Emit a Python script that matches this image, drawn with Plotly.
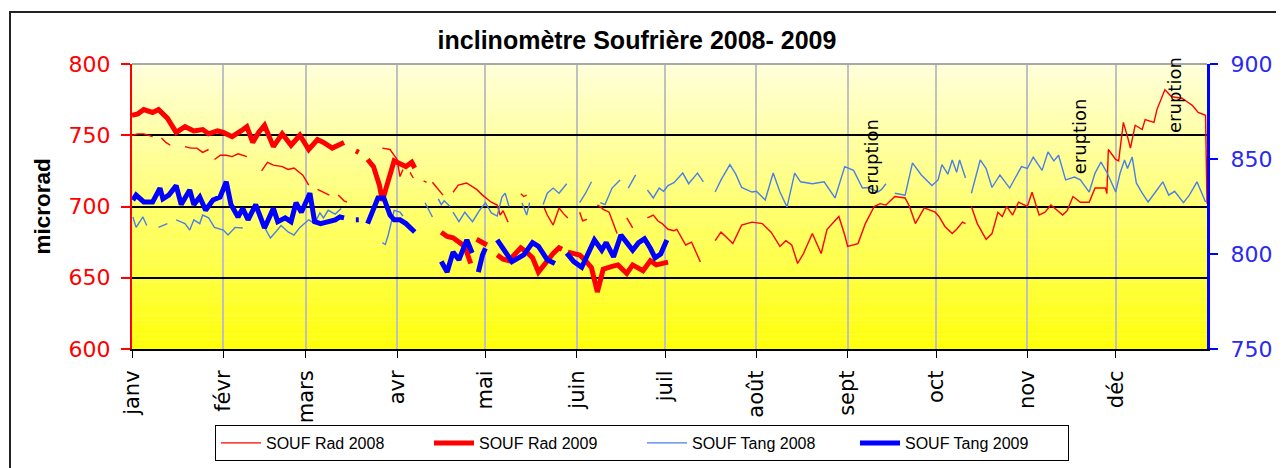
import plotly.graph_objects as go

N = None
# ---- data (day of year, value) ; None = gap ----
rad08_day = [0,2,4,7,8.5,10,11.5,13,15,18,20,22,24,26,27,28,30,32,34,36,39,41.5,44,46,48,51,53,55,58,60,61.5,63,65,67,68.5,70,72,73,79,
             85,87.6,90,91,92,93,94.4,95.5,97.5,99,100,101,102,104,105.6,107,109,110.8,113.6,117,119,122,124,125,126,127.7,130,132,133,134,137,
             140,141,143,145,146.5,148,150,152,153,154.5,157,158,159,160,162,164.7,166.5,168,170,172.5,175,177,178.5,180,182,184,185,188,190,193,195.5,
             198,200,202,204,207,210.5,214,217,220,222,224,226,228,231,232.5,234,236,240,242,243,246.5,249,252,254,256,259,262.5,264,266,269,272.7,274,
             276,278.5,280,282,283,284,285,287,290,292,294,295.5,297,299,301,304,305.6,308,310,312,316,317.5,319.5,322,325,327,330.5,331,331.5,334,335,
             336.6,338,339,340.6,343,344,347,348,350.7,353,356.5,358.6,360,362,364.5,365]
rad08_val = [750,751,751,749,N,748,745,743,N,742,741,741,738,740,N,733,736,736,735,737,735,N,725,731,729,728,726,727,722,715,N,712,710,708,N,708,704,703,N,
             741,740,733,721,726,N,724,720,N,718,717,N,717,712,708,N,710,715,716.5,712,708,703,701,694,697,689,N,709,707,708,N,
             699,694,687,699,695,692,N,696,690,691,N,701,700,698,696,681,N,692,685,N,692,694,690,688,684,683,684,673,675,661,N,
             676,682,678,674,687,689,688,682,672,676,673,660,667,681,674,667,684,693,680,672,674,688,700,702,701,707,706,700,688,699,696,693,
             686,681,684,689,688,N,700,688,677,681,696,693,700,694,703,700,710,694,696,701,694,697,707,703,703,713,713,709,740,733,732,
             759,749,741,757,754,761,759,768,782,777,776,773,771,766,764,702]

rad09_day = [0,2,4,7,9,12,15,18,21,24,26,29,31,34,37,39,41,43,45,48,51,54,57,60,63,65,68,70,72,74,76,77,79,
             80,82,84,85,87,89,91,93,95,96,100,105,107,109,111,113,115,116,117,119,120.5,122,124,126,128,130,132,134,136,138,141,143,145,146,147,
             148,150,152,154,156,158,160,163,165,168,170,173.5,176,178,182]
rad09_val = [764,765,768,766,768,762,752,756,753,754,751,753,752,749,753,756,745,752,757,742,751,743,750,740,747,745,741,743,745,N,739,738,N,
             733,728,715,704,718,732,730,728,731,727,N,682,679,678,675,672,660,N,677,675,673,N,666,663,662,667,671,668,664,654,662,667,671,670,N,
             668,667,666,662,657,640,656,658,659,653,659,655,662,659,661]

tang08_day = [0.3,1.4,3.7,5,5.7,6.5,8,9,12,13.5,15,18,19.6,21,23,24,26,28,31,32.6,35,37.6,41,45,47,49,50.6,53,55,57,60,62,63.8,65,66.6,69,71,78,
              85,86,87,88,89,91,92,95,99.5,101,102,103,104,105,106,108,108.5,109,111,113,115.6,118,120,122,124,125.6,126.7,128,130,132.4,134,135,137,
              139.6,141,143,145,147.6,150,152,154,156,157.5,159,160.6,163,165.7,167,168.5,171,173,175,177,179,180.5,182,184,187,189,192,194,196,
              198,200,203,205,207,210.5,212,215,217.7,220,222.4,225,227,231,235,238.7,242,245,248,250,253.3,254.5,256,257.5,259,262.5,265,268,271.6,273.7,
              275,277,278.5,280,281,283,284,285,288,290,292,294.7,298,302,304,306,309,311,313,314.6,317,320,322,325,327,329,331,334,335.5,337,338,339.6,
              341,343,345,348,350,352,354,357,359,361.6,363,364.5]
tang08_val = [819.5,814,819.5,815,N,812.6,N,814,816,N,818,816,812.6,818,816,820.5,819,814,812.6,810,814,813.7,N,814,808.4,812,815,811.6,810,814,818,816,821.6,819,823,821,824,N,
              806,805,810,817,823,822,820,N,827,822,819.5,N,829,826,828,825,N,822,817,822,817,823,827,821.6,820,830,832,825,N,827,820.5,827,N,
              826,832,834.7,832,837,N,827,832,838,N,827,826,834.7,839,N,834.7,841.6,N,833.7,829.5,834.7,833,836,837.5,842.6,837,842.6,838,N,
              832.6,839,847,842,835,832.6,833,828.4,842.6,832.6,824.7,842.6,838,837,838,829.5,846,844,834.7,835,832.6,834,837,N,832,831,848,841.6,836,839,
              847,842,849.5,843,849.5,840,N,832,849.5,845,835,841.6,834.7,846,845,851,844,853.7,849,852,839,840.5,839,832.6,842.6,848.4,843,832.6,842.6,849.5,845,851,
              837.4,832,827.4,833.7,838,831,833,827,831,838,833,827.4]

tang09_day = [0.3,1.4,4,7,9.5,10.5,12.5,15,16.7,19.6,21,23,25,27.5,29.9,32,33.6,36,37.6,39.4,42,45,48,49.5,52,54,55.7,57.5,60.4,62,64,66.6,69,70.6,72,74,76,77,78.5,
              80,82,83.5,85.5,87.6,89,91,93,96,100,105,107,109,111,113.7,115.5,116.5,117.6,119,120,122,124,127,129,133,136,138,141,143.6,145.5,
              147.6,150,152.7,155,157,159.5,161,163.5,166,168,170,172,174,176,177.6,179.5,181.6]
tang09_val = [828.4,831,827.4,827.4,834.7,829,831,836,826,833.7,826,830,823,828.4,830,838,826,819.5,824,818,826,813.7,824,817,819,817,827,822,832,817,816,817,818,819.5,819,N,818,818,N,
              816,824,829.5,829.5,820.5,818,818,816,811.6,N,796,790.5,801,797,807.4,800.5,N,790.5,799.5,803,N,807.4,800.5,796,799.5,806,804,797,795,N,
              800.5,796,793,800.5,807.4,802,806,798.5,810,806,802,806,808,803,798,800,807.4]

month_days = [0, 31, 59, 90, 120, 151, 181, 212, 243, 273, 304, 334]
month_labels = ["janv", "févr", "mars", "avr", "mai", "juin", "juil", "août", "sept", "oct", "nov", "déc"]
left_ticks = [600, 650, 700, 750, 800]
right_ticks = [750, 800, 850, 900]
eruption_day = [251, 322, 354]
eruption_val = [735, 749.5, 778]

ARIAL = "Arial, Liberation Sans, sans-serif"
DEJA = "DejaVu Sans, Verdana, sans-serif"
BLUE_AX = "#2a2af0"

# page body has an 8px margin: figure is drawn 8px right/down of the window origin
OX, OY = 8, 8
W, H = 1284 - OX, 468 - OY
PL, PR, PT, PB = 132, 1207, 64, 349   # plot area in window pixels
PW, PH = PR - PL, PB - PT

fig = go.Figure()
fig.add_trace(go.Scatter(x=rad08_day, y=rad08_val, mode="lines", name="SOUF Rad 2008",
                         line=dict(color="#ff0000", width=1.4), yaxis="y"))
fig.add_trace(go.Scatter(x=rad09_day, y=rad09_val, mode="lines", name="SOUF Rad 2009",
                         line=dict(color="#ff0000", width=5), yaxis="y"))
fig.add_trace(go.Scatter(x=tang08_day, y=tang08_val, mode="lines", name="SOUF Tang 2008",
                         line=dict(color="#4a7fe6", width=1.4), yaxis="y2"))
fig.add_trace(go.Scatter(x=tang09_day, y=tang09_val, mode="lines", name="SOUF Tang 2009",
                         line=dict(color="#0000ff", width=5), yaxis="y2"))

shapes = []
nb = 60
top = (255, 255, 218)
bot = (255, 255, 10)
for i in range(nb):
    t = (i + 0.5) / nb
    c = tuple(int(round(bot[k] + (top[k] - bot[k]) * t)) for k in range(3))
    shapes.append(dict(type="rect", xref="paper", yref="paper", x0=0, x1=1,
                       y0=i / nb, y1=(i + 1) / nb + 0.001, line=dict(width=0),
                       fillcolor="rgb(%d,%d,%d)" % c, layer="below"))
shapes.append(dict(type="line", xref="paper", yref="paper", x0=0, x1=1, y0=1, y1=1,
                   line=dict(color="#a8a8a8", width=2), layer="above"))
shapes.append(dict(type="rect", xref="paper", yref="paper",
                   x0=(10 - PL) / PW, x1=(1280 - PL) / PW,
                   y0=(PB - 480) / PH, y1=(PB - 12) / PH,
                   line=dict(color="#222222", width=2), fillcolor="rgba(0,0,0,0)", layer="above"))

annotations = []
for d, v in zip(eruption_day, eruption_val):
    annotations.append(dict(x=d, y=v, xref="x", yref="y", text="eruption", showarrow=False,
                            xanchor="center", yanchor="middle",
                            textangle=-90, font=dict(family=DEJA, size=18, color="#000000")))
annotations.append(dict(x=(42 - PL) / PW, y=0.5, xref="paper", yref="paper", text="<b>microrad</b>",
                        xanchor="center", yanchor="middle",
                        showarrow=False, textangle=-90, font=dict(family=ARIAL, size=22.5, color="#000000")))

fig.update_layout(
    width=W, height=H,
    margin=dict(l=PL - OX, r=W - (PR - OX), t=PT - OY, b=H - (PB - OY), pad=0),
    paper_bgcolor="#ffffff",
    plot_bgcolor="rgba(0,0,0,0)",
    title=dict(text="<b>inclinomètre Soufrière 2008- 2009</b>", x=(637 - OX) / W, xref="container",
               y=1 - (40 - OY) / H, yref="container", xanchor="center", yanchor="middle",
               font=dict(family=ARIAL, size=25, color="#000000")),
    shapes=shapes,
    annotations=annotations,
    showlegend=True,
    legend=dict(orientation="h", xref="container", yref="container",
                x=(642 - OX) / W, xanchor="center", y=1 - (443 - OY) / H, yanchor="middle",
                bgcolor="#ffffff", bordercolor="#000000", borderwidth=1,
                font=dict(family=ARIAL, size=16, color="#000000"), entrywidth=158,
                entrywidthmode="pixels", itemwidth=40, traceorder="normal"),
    xaxis=dict(range=[0, 365], tickmode="array", tickvals=month_days, ticktext=month_labels,
               tickangle=-90, showgrid=True, gridcolor="#c0c0c0", gridwidth=2,
               showline=True, linecolor="#000000", linewidth=2, ticks="outside", ticklen=7,
               tickcolor="#000000", ticklabelstandoff=4,
               tickfont=dict(family=DEJA, size=21, color="#000000"),
               zeroline=False, automargin=False),
    yaxis=dict(range=[600, 800], tickmode="array", tickvals=left_ticks, showgrid=True,
               gridcolor="#000000", gridwidth=1.5, showline=True, linecolor="#ff0000", linewidth=2,
               ticks="outside", ticklen=9, tickwidth=1.5, tickcolor="#ff0000", ticklabelstandoff=6,
               tickfont=dict(family=DEJA, size=22, color="#ff0000"), zeroline=False, automargin=False),
    yaxis2=dict(range=[750, 900], tickmode="array", tickvals=right_ticks, overlaying="y", side="right",
                showgrid=False, showline=True, linecolor="#0000ff", linewidth=3,
                ticks="outside", ticklen=8, tickwidth=1.5, tickcolor="#0000ff", ticklabelstandoff=8,
                tickfont=dict(family=DEJA, size=22, color=BLUE_AX), zeroline=False, automargin=False),
)

fig.write_html("out.html")
